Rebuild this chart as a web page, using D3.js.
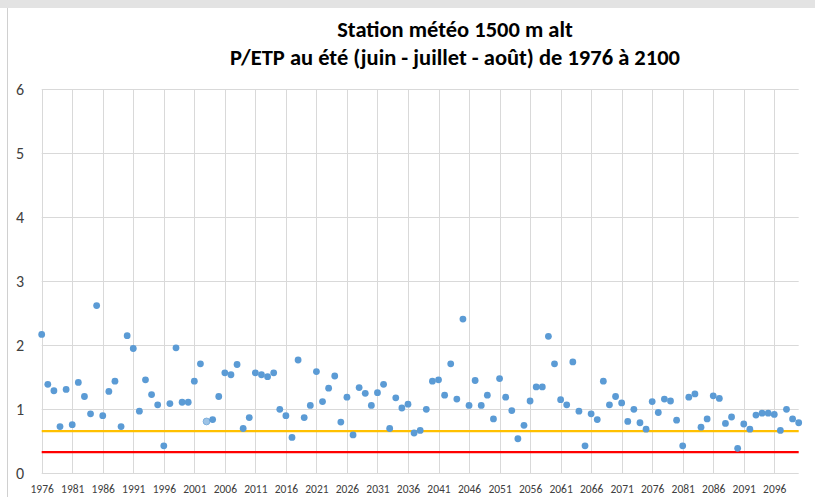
<!DOCTYPE html>
<html><head><meta charset="utf-8">
<script src="https://cdn.jsdelivr.net/npm/d3@7"></script>
<style>body{margin:0;background:#fff}svg{display:block}</style>
</head><body>
<script>
const titleLines = ["Station météo 1500 m alt", "P/ETP au été (juin - juillet - août) de 1976 à 2100"];
const years = d3.range(1976, 2101);
const values = [
 2.17,1.39,1.29,0.73,1.31,0.76,1.42,1.20,0.93,2.62,0.90,1.28,1.44,0.73,2.15,1.95,0.97,1.46,1.23,1.07,
 0.43,1.09,1.96,1.11,1.11,1.44,1.71,0.81,0.84,1.20,1.57,1.54,1.70,0.70,0.87,1.57,1.54,1.51,1.57,1.00,
 0.90,0.56,1.77,0.87,1.06,1.59,1.12,1.33,1.52,0.80,1.19,0.60,1.34,1.25,1.06,1.26,1.39,0.70,1.18,1.02,
 1.08,0.63,0.67,1.00,1.44,1.46,1.22,1.71,1.16,2.41,1.06,1.45,1.06,1.22,0.85,1.48,1.19,0.98,0.54,0.75,
 1.13,1.35,1.35,2.14,1.71,1.15,1.07,1.74,0.97,0.43,0.93,0.84,1.44,1.07,1.20,1.10,0.81,1.00,0.79,0.69,
 1.12,0.95,1.16,1.13,0.83,0.43,1.19,1.24,0.72,0.85,1.21,1.17,0.78,0.88,0.39,0.77,0.69,0.91,0.94,0.94,
 0.92,0.67,1.00,0.85,0.79
];
const highlightYears = [2003];
const xTicks = d3.range(1976, 2100, 5);
const yTicks = [0,1,2,3,4,5,6];
const thresholds = [{value:0.66, color:"#FFC000"}, {value:0.33, color:"#FF0000"}];

const W = 815, H = 497;
const svg = d3.select("body").append("svg").attr("width", W).attr("height", H);

// frame
svg.append("rect").attr("x",0).attr("y",0).attr("width",W).attr("height",H).attr("fill","#fff");
svg.append("rect").attr("x",0).attr("y",0).attr("width",W).attr("height",8).attr("fill","#e3e3e3");
svg.append("line").attr("x1",7.5).attr("x2",7.5).attr("y1",8).attr("y2",H).attr("stroke","#d0d0d0");

const x = d3.scaleLinear().domain([1976, 2100]).range([41.7, 798.7]);
const y = d3.scaleLinear().domain([0, 6]).range([473.3, 89.3]);

// gridlines
const g = svg.append("g");
g.selectAll("line.h").data(yTicks).join("line")
  .attr("x1", x(1976)).attr("x2", x(2100))
  .attr("y1", d => Math.round(y(d))+0.5).attr("y2", d => Math.round(y(d))+0.5)
  .attr("stroke", "#d9d9d9").attr("stroke-width", 1);
g.selectAll("line.v").data(xTicks).join("line")
  .attr("x1", d => Math.round(x(d))+0.5).attr("x2", d => Math.round(x(d))+0.5)
  .attr("y1", y(6)).attr("y2", y(0))
  .attr("stroke", "#d9d9d9").attr("stroke-width", 1);

// axes labels
const yAxis = d3.axisLeft(y).tickValues(yTicks).tickSize(0).tickPadding(0).tickFormat(d3.format("d"));
const ya = svg.append("g").attr("transform", "translate(24,0)").call(yAxis);
ya.select(".domain").remove();
ya.selectAll("text").attr("font-family", "Carlito, Lato, 'Open Sans', sans-serif").attr("font-size", 16).attr("fill", "#404040").attr("dy","0.35em");

const xAxis = d3.axisBottom(x).tickValues(xTicks).tickSize(0).tickPadding(0).tickFormat(d3.format("d"));
const xa = svg.append("g").attr("transform", "translate(0,485)").call(xAxis);
xa.select(".domain").remove();
xa.selectAll("text").attr("font-family", "Carlito, Lato, 'Open Sans', sans-serif").attr("font-size", 11.5).attr("fill", "#404040").attr("dy","0.71em");

// threshold lines
svg.selectAll("line.th").data(thresholds).join("line")
  .attr("x1", x(1976)).attr("x2", x(2100))
  .attr("y1", d => y(d.value)).attr("y2", d => y(d.value))
  .attr("stroke", d => d.color).attr("stroke-width", 2.25);

// points
const pts = years.map((yr, i) => ({year: yr, value: values[i]}));
svg.selectAll("circle.pt").data(pts).join("circle")
  .attr("cx", d => x(d.year)).attr("cy", d => y(d.value)).attr("r", 3.4)
  .attr("fill", d => highlightYears.includes(d.year) ? "#9dc3e6" : "#5b9bd5")
  .attr("stroke", d => highlightYears.includes(d.year) ? "#7fb0dd" : "none")
  .attr("stroke-width", 1);

// title
svg.selectAll("text.title").data(titleLines).join("text")
  .attr("x", 455).attr("y", (d,i) => 37 + i*28)
  .attr("text-anchor", "middle")
  .attr("font-family", "Carlito, Lato, 'Open Sans', sans-serif")
  .attr("font-weight", "bold").attr("font-size", 22.5).attr("fill", "#000")
  .text(d => d);
</script>
</body></html>
